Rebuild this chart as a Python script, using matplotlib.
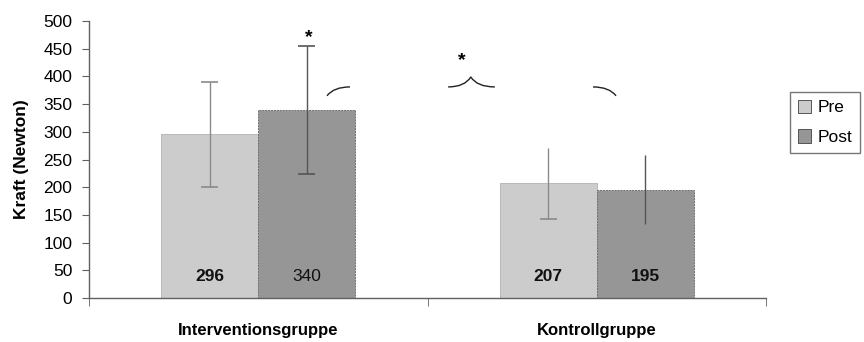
import numpy as np
import matplotlib.pyplot as plt
from matplotlib.path import Path
from matplotlib.patches import PathPatch

plt.rcParams['font.family'] = ['Liberation Sans', 'DejaVu Sans']

groups = ['Interventionsgruppe', 'Kontrollgruppe']
series = ['Pre', 'Post']
values = {'Pre': [296, 207], 'Post': [340, 195]}
err_lo = {'Pre': [200, 143], 'Post': [224, 134]}
err_hi = {'Pre': [390, 271], 'Post': [455, 258]}
# which error bar ends carry a cap (lower, upper)
caps = {'Pre': [(True, True), (True, False)], 'Post': [(True, True), (False, False)]}
labels = {'Pre': ['296', '207'], 'Post': ['340', '195']}
yticks = [0, 50, 100, 150, 200, 250, 300, 350, 400, 450, 500]

colors = {'Pre': '#cccccc', 'Post': '#969696'}
edges = {'Pre': '#b8b8b8', 'Post': '#6e6e6e'}
ecolors = {'Pre': '#8a8a8a', 'Post': '#555555'}
offsets = {'Pre': -0.1435, 'Post': 0.1435}
width = 0.287

fig = plt.figure(figsize=(8.64, 3.42), dpi=100)
ax = fig.add_axes([89/864, 1 - 298/342, 677/864, 277/342])

x = np.arange(len(groups))
for s in series:
    xs = x + offsets[s]
    ax.bar(xs, values[s], width=width, color=colors[s], edgecolor=edges[s],
           linewidth=0.7, linestyle=(0, (2, 1)) if s == 'Post' else '-',
           label=s, zorder=2)
    for i in range(len(groups)):
        ax.vlines(xs[i], err_lo[s][i], err_hi[s][i], color=ecolors[s], lw=1, zorder=3)
        lo_cap, hi_cap = caps[s][i]
        if lo_cap:
            ax.hlines(err_lo[s][i], xs[i] - 0.025, xs[i] + 0.025, color=ecolors[s], lw=1.2, zorder=3)
        if hi_cap:
            ax.hlines(err_hi[s][i], xs[i] - 0.025, xs[i] + 0.025, color=ecolors[s], lw=1.2, zorder=3)
        w = 'normal' if (s == 'Post' and i == 0) else 'bold'
        ax.text(xs[i], 38, labels[s][i], ha='center', va='center', fontsize=12.5,
                fontweight=w, color='#111111', zorder=4)

# significance braces and stars
def hook(x0, x1, y0, y1):
    verts = [(x0, y0), (x0 + (x1 - x0) * 0.3, y1), (x1, y1)]
    return Path(verts, [Path.MOVETO, Path.CURVE3, Path.CURVE3])

ax.add_patch(PathPatch(hook(0.203, 0.271, 365, 381), fill=False, lw=1, color='#222222', clip_on=False))
ax.add_patch(PathPatch(hook(1.057, 0.989, 365, 381), fill=False, lw=1, color='#222222', clip_on=False))
brace = Path([(0.561, 381), (0.610, 381), (0.628, 399),
              (0.646, 381), (0.699, 381)],
             [Path.MOVETO, Path.CURVE3, Path.CURVE3, Path.CURVE3, Path.CURVE3])
ax.add_patch(PathPatch(brace, fill=False, lw=1, color='#222222', clip_on=False))
ax.text(0.148, 470, '*', ha='center', va='center', fontsize=14, fontweight='bold')
ax.text(0.602, 428, '*', ha='center', va='center', fontsize=14, fontweight='bold')

ax.set_xlim(-0.5, 1.5)
ax.set_ylim(0, 500)
ax.set_yticks(yticks)
ax.set_yticklabels([str(t) for t in yticks], fontsize=12.5)
ax.set_xticks(x)
ax.set_xticklabels(groups, fontsize=12, fontweight='bold')
ax.set_xticks([-0.5, 0.5, 1.5], minor=True)
ax.tick_params(axis='x', which='major', length=0, pad=18)
ax.tick_params(axis='x', which='minor', length=6, direction='out', color='#606060')
ax.tick_params(axis='y', length=5, direction='out', color='#606060', pad=7)

for sp in ['top', 'right']:
    ax.spines[sp].set_visible(False)
for sp in ['left', 'bottom']:
    ax.spines[sp].set_color('#606060')
    ax.spines[sp].set_linewidth(1)

ax.set_ylabel('Kraft (Newton)', fontsize=12.5, fontweight='bold', labelpad=10)

leg = ax.legend(loc='upper left', bbox_to_anchor=(1.035, 0.744), borderaxespad=0,
                fontsize=12.5, frameon=True, fancybox=False, handlelength=0.8,
                handleheight=0.8, handletextpad=0.35, borderpad=0.45, labelspacing=0.8)
leg.get_frame().set_edgecolor('#555555')
leg.get_frame().set_linewidth(1)
for h in leg.legend_handles:
    h.set_linestyle('-')
    h.set_edgecolor('#555555')

fig.savefig('out.png', dpi=100)
